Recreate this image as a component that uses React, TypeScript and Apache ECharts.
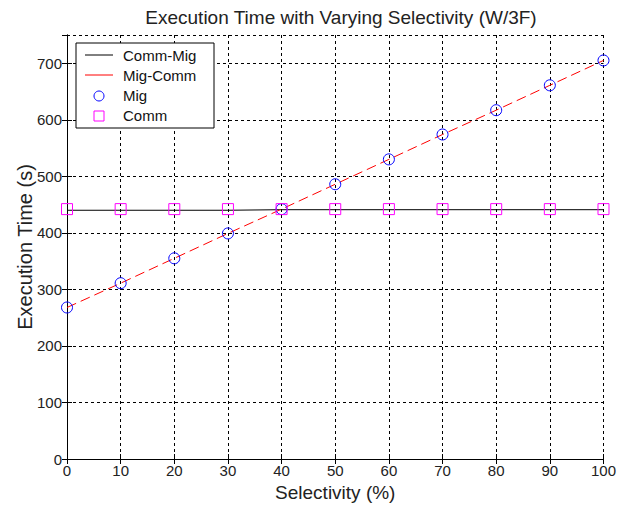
import React, { useEffect, useRef } from "react";
import * as echarts from "echarts";

const selectivity = [0, 10, 20, 30, 40, 50, 60, 70, 80, 90, 100];
const commMig = [440, 440, 440, 440, 441, 441, 441, 441, 441, 441, 441];
const migComm = [268, 311, 355, 399, 442, 486, 530, 574, 617, 661, 705];
const mig = [268, 311, 355, 399, 442, 486, 530, 574, 617, 661, 705];
const comm = [442, 442, 442, 442, 442, 442, 442, 442, 442, 442, 442];
const yTicks = [0, 100, 200, 300, 400, 500, 600, 700];

const FONT = "Liberation Sans, Arial, sans-serif";

export default function App() {
  const ref = useRef<HTMLDivElement>(null);
  useEffect(() => {
    if (!ref.current) return;
    const chart = echarts.init(ref.current, undefined, { renderer: "svg" });
    const pair = (ys: number[]) => selectivity.map((x, i) => [x, ys[i]]);
    const tickStyle = { color: "#000", width: 1 };
    const lx = 76, ly = 43, rowH = 20;
    const textStyle = { fontFamily: FONT, fontSize: 15, fill: "#111", textVerticalAlign: "middle" };
    const rows = ["Comm-Mig", "Mig-Comm", "Mig", "Comm"];
    const legendEls: any[] = [
      {
        type: "rect",
        shape: { x: lx, y: ly, width: 138, height: 85 },
        style: { fill: "#fff", stroke: "#000", lineWidth: 1 },
        z: 100,
      },
      ...rows.map((name, i) => ({
        type: "text",
        x: lx + 47,
        y: ly + 12 + i * rowH,
        style: { ...textStyle, text: name },
        z: 101,
      })),
      {
        type: "line",
        shape: { x1: lx + 9, y1: ly + 12, x2: lx + 37, y2: ly + 12 },
        style: { stroke: "#000", lineWidth: 1 },
        z: 101,
      },
      {
        type: "line",
        shape: { x1: lx + 9, y1: ly + 12 + rowH, x2: lx + 37, y2: ly + 12 + rowH },
        style: { stroke: "#ff0000", lineWidth: 1 },
        z: 101,
      },
      {
        type: "circle",
        shape: { cx: lx + 23, cy: ly + 12 + 2 * rowH + 1, r: 5 },
        style: { fill: "none", stroke: "#0000ff", lineWidth: 1 },
        z: 101,
      },
      {
        type: "rect",
        shape: { x: lx + 18, y: ly + 12 + 3 * rowH - 4, width: 10, height: 10 },
        style: { fill: "none", stroke: "#ff00ff", lineWidth: 1 },
        z: 101,
      },
    ];
    chart.setOption({
      animation: false,
      backgroundColor: "#fff",
      textStyle: { fontFamily: FONT },
      title: {
        text: "Execution Time with Varying Selectivity (W/3F)",
        left: 336,
        textAlign: "center",
        top: 3,
        textStyle: { fontFamily: FONT, fontSize: 19, fontWeight: "normal", color: "#222" },
      },
      graphic: legendEls,
      grid: { left: 67, right: 13, top: 35, bottom: 49, containLabel: false },
      xAxis: [
        {
          type: "value",
          min: 0,
          max: 100,
          interval: 10,
          name: "Selectivity (%)",
          nameLocation: "middle",
          nameGap: 21,
          nameTextStyle: { fontFamily: FONT, fontSize: 19, color: "#222" },
          axisLine: { show: true, lineStyle: { color: "#000", width: 1 } },
          axisTick: { show: true, inside: true, length: 5, lineStyle: tickStyle },
          axisLabel: { fontFamily: FONT, fontSize: 15, color: "#222", margin: 4 },
          splitLine: { show: true, lineStyle: { color: "#000", type: [3, 3], width: 1 } },
        },
        {
          type: "value",
          position: "top",
          min: 0,
          max: 100,
          interval: 10,
          axisLine: { show: true, lineStyle: { color: "#000", width: 1 } },
          axisTick: { show: true, inside: true, length: 5, lineStyle: tickStyle },
          axisLabel: { show: false },
          splitLine: { show: false },
        },
      ],
      yAxis: [
        {
          type: "value",
          min: 0,
          max: 750,
          interval: 100,
          name: "Execution Time (s)",
          nameLocation: "middle",
          nameGap: 32,
          nameMoveOverlap: false,
          nameTextStyle: { fontFamily: FONT, fontSize: 20, color: "#222" },
          axisLine: { show: true, lineStyle: { color: "#000", width: 1 } },
          axisTick: { show: true, inside: true, length: 5, lineStyle: tickStyle },
          axisLabel: {
            fontFamily: FONT,
            fontSize: 15,
            color: "#222",
            margin: 5,
            showMaxLabel: false,
            formatter: (v: number) => (yTicks.includes(v) ? String(v) : ""),
          },
          splitLine: { show: true, lineStyle: { color: "#000", type: [3, 3], width: 1 } },
        },
        {
          type: "value",
          position: "right",
          min: 0,
          max: 750,
          interval: 100,
          axisLine: { show: true, lineStyle: { color: "#000", width: 1 } },
          axisTick: { show: true, inside: true, length: 5, lineStyle: tickStyle },
          axisLabel: { show: false },
          splitLine: { show: false },
        },
      ],
      series: [
        {
          name: "Comm-Mig",
          type: "line",
          data: pair(commMig),
          symbol: "none",
          lineStyle: { color: "#000", width: 1 },
          itemStyle: { color: "#000" },
          z: 2,
        },
        {
          name: "Mig-Comm",
          type: "line",
          data: pair(migComm),
          symbol: "none",
          lineStyle: { color: "#ff0000", width: 1, type: [10, 5] },
          itemStyle: { color: "#ff0000" },
          z: 3,
        },
        {
          name: "Mig",
          type: "scatter",
          data: pair(mig),
          symbol: "circle",
          symbolSize: 11,
          itemStyle: { color: "transparent", borderColor: "#0000ff", borderWidth: 1, opacity: 1 },
          z: 4,
        },
        {
          name: "Comm",
          type: "scatter",
          data: pair(comm),
          symbol: "rect",
          symbolSize: 11,
          itemStyle: { color: "transparent", borderColor: "#ff00ff", borderWidth: 1, opacity: 1 },
          z: 4,
        },
      ],
    });
    return () => chart.dispose();
  }, []);
  return (
    <div
      ref={ref}
      style={{ position: "absolute", left: 0, top: 0, width: 619, height: 508 }}
    />
  );
}
